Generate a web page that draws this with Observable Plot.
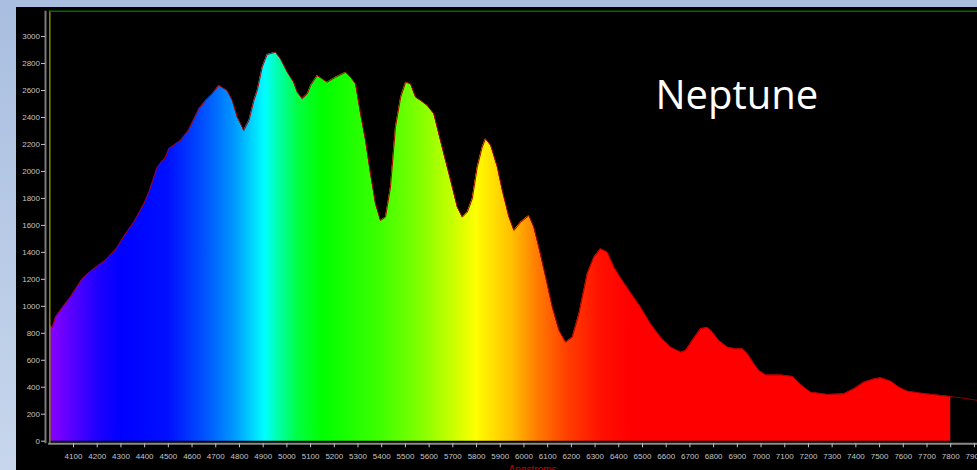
<!DOCTYPE html>
<html><head><meta charset="utf-8">
<script src="https://cdn.jsdelivr.net/npm/d3@7"></script>
<script src="https://cdn.jsdelivr.net/npm/@observablehq/plot@0.6"></script>
<style>
html,body{margin:0;padding:0;width:977px;height:470px;overflow:hidden;background:linear-gradient(180deg,#a9bee0 0%,#c7d6ec 100%);}
#chart{position:absolute;left:16px;top:7px;width:961px;height:463px;background:#000;}
#chart svg{display:block;}
</style></head><body><div id="chart"></div>
<script>
// Spectrum of Neptune: wavelength (Å) and relative intensity
const wavelengths = [4000,4011,4024,4066,4087,4137,4179,4242,4284,4319,4354,4397,4418,4453,4488,4502,4551,4586,4629,4657,4685,4713,4748,4770,4791,4812,4818,4840,4861,4875,4896,4917,4952,4973,5002,5029,5044,5065,5086,5100,5128,5170,5205,5248,5269,5290,5311,5332,5353,5374,5395,5416,5437,5458,5480,5501,5522,5543,5564,5592,5620,5634,5662,5691,5719,5740,5761,5782,5803,5824,5838,5860,5888,5909,5937,5958,5986,6021,6042,6063,6092,6120,6148,6176,6204,6232,6267,6295,6323,6352,6380,6408,6450,6492,6534,6576,6619,6661,6682,6710,6745,6773,6795,6822,6858,6893,6921,6943,6970,6991,7020,7083,7133,7167,7209,7280,7350,7392,7434,7476,7505,7547,7582,7617,7673,7730,7800];
const intensities = [858,843,919,1021,1068,1204,1270,1352,1438,1537,1623,1760,1846,2031,2105,2168,2229,2308,2464,2526,2575,2637,2600,2526,2402,2328,2303,2377,2526,2600,2773,2867,2884,2835,2735,2661,2587,2538,2575,2637,2711,2661,2698,2735,2698,2649,2427,2229,1982,1760,1636,1661,1883,2328,2550,2661,2649,2550,2526,2489,2427,2328,2131,1933,1735,1661,1698,1797,2031,2180,2242,2192,2031,1858,1661,1562,1623,1673,1586,1438,1216,993,821,734,771,944,1241,1364,1426,1401,1290,1210,1100,993,870,771,697,660,672,746,833,845,808,746,697,685,685,648,574,524,490,490,480,420,363,346,351,388,437,462,470,445,400,371,356,344,331];
// trace continuing beyond the filled region
const tailWavelengths = [7800,7842,7898,7913];
const tailIntensities = [331,322,307,303];

const xTicks = [4100,4200,4300,4400,4500,4600,4700,4800,4900,5000,5100,5200,5300,5400,5500,5600,5700,5800,5900,6000,6100,6200,6300,6400,6500,6600,6700,6800,6900,7000,7100,7200,7300,7400,7500,7600,7700,7800,7900];
const yTicks = [0,200,400,600,800,1000,1200,1400,1600,1800,2000,2200,2400,2600,2800,3000];
const title = "Neptune";
const xLabel = "Angstroms";

// wavelength -> display colour for the spectral fill
const stopWavelengths = [4000,4200,4300,4500,4650,4780,4870,4910,4960,5050,5150,5400,5560,5700,5800,5850,5950,6050,6180,6330,6450,7800];
const stopColors = ["#8c00ff","#2000ff","#0000ff","#0010ff","#0050ff","#0098ff","#00e0ff","#00ffff","#00ffb0","#00ff40","#00ff00","#40ff00","#80ff00","#c8ff00","#ffff00","#ffe800","#ffc000","#ff8000","#ff4000","#ff1000","#ff0000","#ff0000"];

const spectrum = wavelengths.map((w, i) => ({w, v: intensities[i]}));
const tail = tailWavelengths.map((w, i) => ({w, v: tailIntensities[i]}));

const W = 961, H = 463;
const chart = Plot.plot({
  width: W, height: H,
  marginLeft: 29, marginRight: 0, marginTop: 3.7, marginBottom: 26.7,
  style: {background: "#000", fontFamily: "'Liberation Sans', Arial, sans-serif", fontSize: "8px", color: "#c4c4c4"},
  x: {domain: [4000, 7913], range: [33.3, 961]},
  y: {domain: [0, 3188], range: [433.7, 3.7]},
  marks: [
    Plot.areaY(spectrum, {x: "w", y: "v", fill: "url(#spectrum)"}),
    Plot.line(spectrum, {x: "w", y: "v", stroke: "#b00000", strokeWidth: 1}),
    Plot.line(tail, {x: "w", y: "v", stroke: "#8a0000", strokeWidth: 1}),
    Plot.ruleX([4000], {stroke: "#8a8a00", strokeWidth: 1.5}),
    Plot.ruleX([4000], {dx: -4.3, stroke: "#7a7a7a", strokeWidth: 2}),
    Plot.ruleY([3188], {x1: 4000, x2: 7913, stroke: "#006a00", strokeWidth: 1.5}),
    Plot.ruleY([0], {x1: 3995, x2: 7913, dy: 2.6, stroke: "#8a8a8a", strokeWidth: 2}),
    Plot.axisY({ticks: yTicks, tickSize: 4, tickPadding: 1.5, tickFormat: d => String(d), label: null}),
    Plot.axisX({ticks: xTicks, tickSize: 4, tickPadding: 6, tickFormat: d => String(d), label: null}),
    Plot.text([xLabel], {frameAnchor: "bottom", dx: 21, dy: 22, lineAnchor: "top", fill: "#c00000", fontSize: 10}),
    Plot.text([title], {frameAnchor: "top-left", dx: 610, dy: 97.3, textAnchor: "start", lineAnchor: "bottom", fill: "#ffffff", fontSize: 40, fontFamily: "'Open Sans', sans-serif"})
  ]
});

const xs = chart.scale("x");
const ns = "http://www.w3.org/2000/svg";
const defs = document.createElementNS(ns, "defs");
const grad = document.createElementNS(ns, "linearGradient");
grad.setAttribute("id", "spectrum");
grad.setAttribute("gradientUnits", "userSpaceOnUse");
const w0 = stopWavelengths[0], w1 = stopWavelengths[stopWavelengths.length - 1];
grad.setAttribute("x1", xs.apply(w0));
grad.setAttribute("x2", xs.apply(w1));
grad.setAttribute("y1", 0);
grad.setAttribute("y2", 0);
stopWavelengths.forEach((w, i) => {
  const s = document.createElementNS(ns, "stop");
  s.setAttribute("offset", (w - w0) / (w1 - w0));
  s.setAttribute("stop-color", stopColors[i]);
  grad.appendChild(s);
});
defs.appendChild(grad);
chart.insertBefore(defs, chart.firstChild);
document.getElementById("chart").appendChild(chart);
</script>
</body></html>
